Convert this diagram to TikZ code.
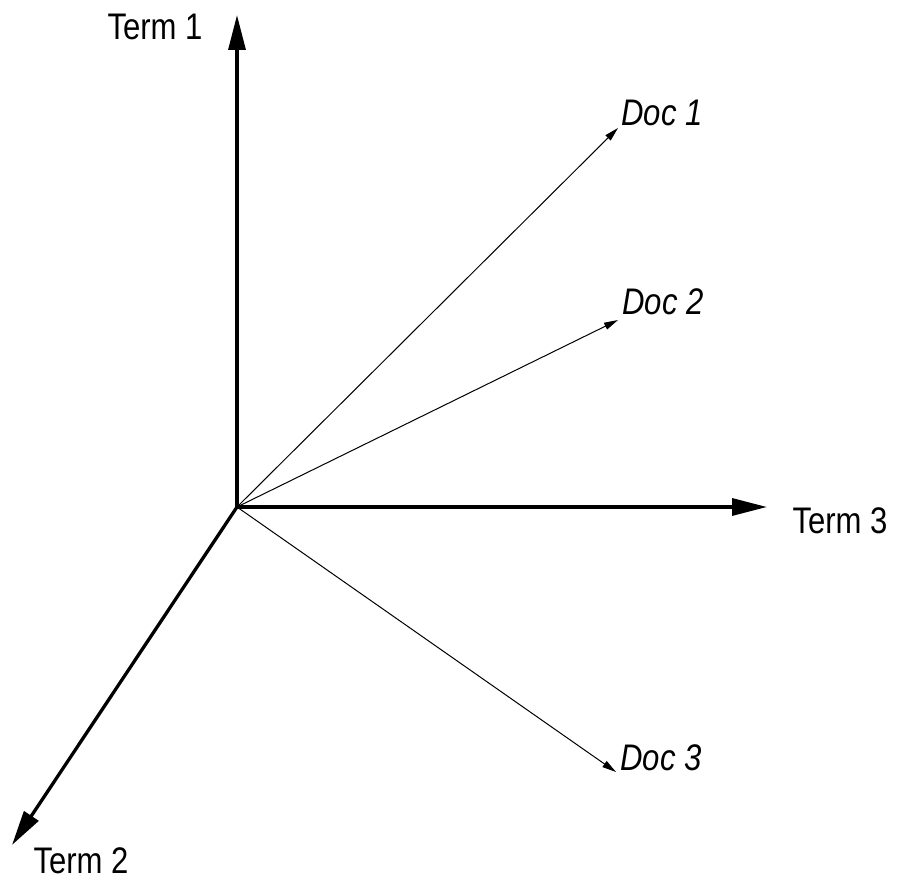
\documentclass[tikz,border=0pt]{standalone}
\usepackage{fontspec}
\usepackage{graphicx}
\setmainfont{Liberation Sans}
\usetikzlibrary{arrows.meta,positioning}

\newcommand{\narrowtext}[1]{\scalebox{0.84}[1]{#1}}

\begin{document}
\begin{tikzpicture}[
    x=0.5pt, y=-0.5pt,
    axis/.style={line width=1.65pt, -{Triangle[length=17.5pt, width=8.5pt]}},
    docvec/.style={line width=0.5pt, -{Triangle[length=7pt, width=3.6pt]}},
    termlabel/.style={font=\fontsize{18.5}{22}\selectfont, inner sep=0pt},
    doclabel/.style={font=\fontsize{18.5}{22}\selectfont\itshape, inner sep=0pt}
]
\useasboundingbox (0,0) rectangle (901,881);
\coordinate (o) at (237,507);
\coordinate (t1) at (237,15);
\coordinate (t2) at (12,845);
\coordinate (t3) at (767,507);
\coordinate (d1) at (618,128);
\coordinate (d2) at (618,320);
\coordinate (d3) at (616,772);

\node[termlabel] (term1) at (155,27) {\narrowtext{Term 1}};
\node[termlabel] (term2) at (81,861) {\narrowtext{Term 2}};
\node[termlabel] (term3) at (840,521) {\narrowtext{Term 3}};
\node[doclabel] (doc1) at (662,113) {\narrowtext{Doc 1}};
\node[doclabel] (doc2) at (663,302) {\narrowtext{Doc 2}};
\node[doclabel] (doc3) at (661,758) {\narrowtext{Doc 3}};

\draw[axis] (o) -- (t1);
\draw[axis] (o) -- (t2);
\draw[axis] (o) -- (t3);
\draw[docvec] (o) -- (d1);
\draw[docvec] (o) -- (d2);
\draw[docvec] (o) -- (d3);
\end{tikzpicture}
\end{document}
